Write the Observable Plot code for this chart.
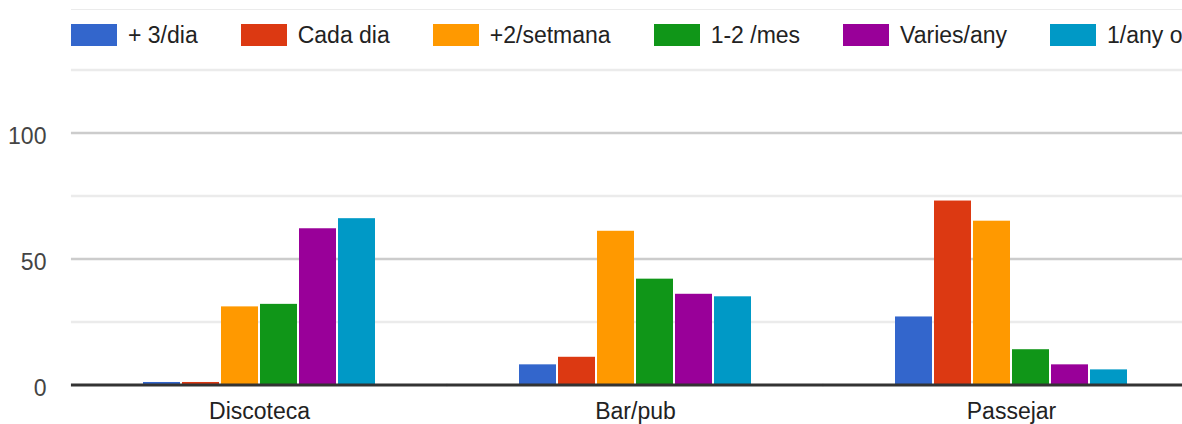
<!DOCTYPE html>
<html>
<head>
<meta charset="utf-8">
<script src="https://cdn.jsdelivr.net/npm/d3@7"></script>
<script src="https://cdn.jsdelivr.net/npm/@observablehq/plot@0.6"></script>
<style>
  html, body { margin: 0; padding: 0; background: #fff; overflow: hidden; width: 1182px; height: 424px; }
  body { font-family: "Liberation Sans", Arial, sans-serif; }
  #legend {
    margin-top: 9px; margin-left: 71px; height: 50px;
    border-top: 1px solid #ebebeb;
    display: flex; align-items: center; white-space: nowrap; gap: 43px;
    font-size: 23px; color: #222; width: 1400px;
  }
  .item { display: flex; align-items: center; }
  .sw { width: 46px; height: 22px; margin-right: 11px; flex: none; }
  #chart svg { max-width: none !important; display: block; }
</style>
</head>
<body>
<div id="legend"></div>
<div id="chart"></div>
<script>
const categories = ["Discoteca", "Bar/pub", "Passejar"];
const series = ["+ 3/dia", "Cada dia", "+2/setmana", "1-2 /mes", "Varies/any", "1/any o menys"];
const colors = ["#3366cc", "#dc3912", "#ff9900", "#109618", "#990099", "#0099c6"];
const discoteca = [1, 1, 31, 32, 62, 66];
const barPub = [8, 11, 61, 42, 36, 35];
const passejar = [27, 73, 65, 14, 8, 6];
const majorTicks = [50, 100];
const minorTicks = [25, 75, 125];
const labelTicks = [0, 50, 100];

const values = [discoteca, barPub, passejar];
const data = categories.flatMap((c, i) => series.map((s, j) => ({category: c, series: s, value: values[i][j]})));

// legend
const legend = document.getElementById("legend");
series.forEach((s, i) => {
  const it = document.createElement("div");
  it.className = "item";
  const sw = document.createElement("span");
  sw.className = "sw";
  sw.style.background = colors[i];
  const t = document.createElement("span");
  t.textContent = s;
  it.appendChild(sw); it.appendChild(t);
  legend.appendChild(it);
});

const W = 1200, ML = 71, MR = 1;
const padInner = 0.378, padOuter = padInner / 2;
const step = (W - ML - MR) / categories.length;
const ext = -step * padInner / 2; // extend rules across the gaps between facets

const chart = Plot.plot({
  width: W,
  height: 364,
  marginLeft: ML,
  marginRight: MR,
  marginTop: 9.5,
  marginBottom: 39.5,
  style: {fontFamily: '"Liberation Sans", Arial, sans-serif', fontSize: "23px", background: "white", overflow: "visible", maxWidth: "none"},
  fx: {domain: categories, paddingInner: padInner, paddingOuter: padOuter, label: null, axis: null},
  x: {domain: series, paddingInner: 0.05, paddingOuter: 0, axis: null},
  y: {domain: [0, 125], axis: null},
  color: {domain: series, range: colors},
  marks: [
    Plot.ruleY(minorTicks, {stroke: "#ebebeb", strokeWidth: 2.5, insetLeft: ext, insetRight: ext}),
    Plot.ruleY(majorTicks, {stroke: "#cccccc", strokeWidth: 2.5, insetLeft: ext, insetRight: ext}),
    Plot.axisY({ticks: labelTicks, tickSize: 0, tickPadding: 25 - ext, fontSize: 23, fill: "#444", dy: 4, label: null}),
    Plot.barY(data, {fx: "category", x: "series", y: "value", fill: "series"}),
    Plot.ruleY([0], {stroke: "#333", strokeWidth: 3, insetLeft: ext, insetRight: ext}),
    Plot.axisFx({anchor: "bottom", tickSize: 0, tickPadding: 18, fontSize: 23, fill: "#222", label: null})
  ]
});
document.getElementById("chart").appendChild(chart);
</script>
</body>
</html>
